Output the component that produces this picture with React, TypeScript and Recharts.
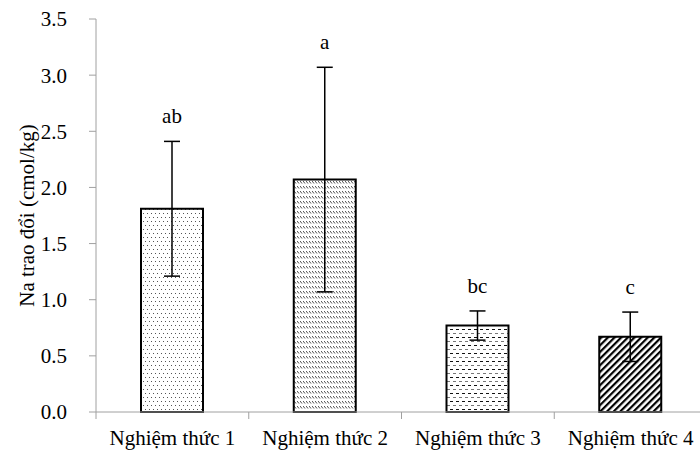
import React from "react";
import { BarChart, Bar, XAxis, YAxis, ErrorBar, Cell, LabelList } from "recharts";

const categories = ["Nghiệm thức 1", "Nghiệm thức 2", "Nghiệm thức 3", "Nghiệm thức 4"];
const naValues = [1.81, 2.07, 0.77, 0.67];
const naErrors = [0.6, 1.0, 0.13, 0.22];
const groupLetters = ["ab", "a", "bc", "c"];
const yTicks = [0, 0.5, 1.0, 1.5, 2.0, 2.5, 3.0, 3.5];
const yLabel = "Na trao đổi (cmol/kg)";

const data = categories.map((name, i) => ({ name, na: naValues[i], err: naErrors[i] }));

const FONT = "'Liberation Serif', 'DejaVu Serif', serif";
const AXIS = "#a0a0a0";
const textStyle = { fontFamily: FONT, fontSize: 21 };
const patterns = ["url(#dots)", "url(#bandHatch)", "url(#dashes)", "url(#diag)"];

function CategoryTick(props: any) {
  const { x, y, payload, index } = props;
  const half = payload.offset ?? 76;
  return (
    <g>
      <line x1={x - half} y1={y} x2={x - half} y2={y + 7} stroke={AXIS} />
      {index === categories.length - 1 && (
        <line x1={x + half} y1={y} x2={x + half} y2={y + 7} stroke={AXIS} />
      )}
      <text x={x} y={y + 33} textAnchor="middle" style={textStyle} fill="#000">
        {payload.value}
      </text>
    </g>
  );
}

function LetterLabel(props: any) {
  const { x, y, width, height, value, index } = props;
  const err = naErrors[index];
  const pxPerUnit = value ? height / value : 0;
  const top = y - err * pxPerUnit;
  return (
    <text x={x + width / 2} y={top - 18} textAnchor="middle" style={textStyle} fill="#000">
      {groupLetters[index]}
    </text>
  );
}

function YTitle(props: any) {
  const { viewBox } = props;
  const cx = viewBox.x + 27;
  const cy = viewBox.y + viewBox.height / 2;
  return (
    <text
      x={cx}
      y={cy}
      transform={`rotate(-90, ${cx}, ${cy})`}
      textAnchor="middle"
      dominantBaseline="central"
      style={textStyle}
      fill="#000"
    >
      {yLabel}
    </text>
  );
}

export default function App() {
  return (
    <div
      style={{
        position: "fixed",
        top: 0,
        left: 0,
        width: 700,
        height: 451,
        overflow: "hidden",
        background: "#fff",
        fontFamily: FONT,
      }}
    >
      <BarChart
        width={710}
        height={451}
        data={data}
        margin={{ top: 19, right: 3, bottom: 0, left: 0 }}
        style={{ fontFamily: FONT }}
      >
        <defs>
          <pattern id="dots" patternUnits="userSpaceOnUse" width={8} height={8}>
            <rect width={8} height={8} fill="#fff" />
            <rect x={1} y={1} width={1} height={1} fill="#555" />
            <rect x={5} y={1} width={1} height={1} fill="#555" />
            <rect x={3} y={5} width={1} height={1} fill="#555" />
            <rect x={7} y={5} width={1} height={1} fill="#555" />
          </pattern>
          <pattern id="bandHatch" patternUnits="userSpaceOnUse" width={3} height={5}>
            <rect width={3} height={5} fill="#fff" />
            <line x1={0} y1={1} x2={2} y2={3.5} stroke="#333" strokeWidth={0.9} />
          </pattern>
          <pattern id="dashes" patternUnits="userSpaceOnUse" width={6} height={8}>
            <rect width={6} height={8} fill="#fff" />
            <rect x={0} y={1} width={3} height={1} fill="#111" />
            <rect x={3} y={5} width={3} height={1} fill="#777" />
          </pattern>
          <pattern id="diag" patternUnits="userSpaceOnUse" width={4.7} height={4.7} patternTransform="rotate(45)">
            <rect width={4.7} height={4.7} fill="#fff" />
            <rect x={0} y={0} width={2.2} height={4.7} fill="#000" />
          </pattern>
        </defs>
        <XAxis
          dataKey="name"
          axisLine={{ stroke: AXIS }}
          tickLine={false}
          tickSize={0}
          tickMargin={0}
          interval={0}
          height={39}
          tick={<CategoryTick />}
        />
        <YAxis
          width={96}
          domain={[0, 3.5]}
          ticks={yTicks}
          tickFormatter={(v: number) => v.toFixed(1)}
          axisLine={{ stroke: AXIS }}
          tickLine={{ stroke: AXIS }}
          tickSize={7}
          tickMargin={22}
          tick={{ fill: "#000", style: textStyle }}
          label={<YTitle />}
        />
        <Bar dataKey="na" barSize={62} stroke="#000" strokeWidth={2} isAnimationActive={false}>
          {data.map((d, i) => (
            <Cell key={d.name} fill={patterns[i]} />
          ))}
          <ErrorBar dataKey="err" width={8} stroke="#000" strokeWidth={1.5} direction="y" />
          <LabelList dataKey="na" content={<LetterLabel />} />
        </Bar>
      </BarChart>
    </div>
  );
}
